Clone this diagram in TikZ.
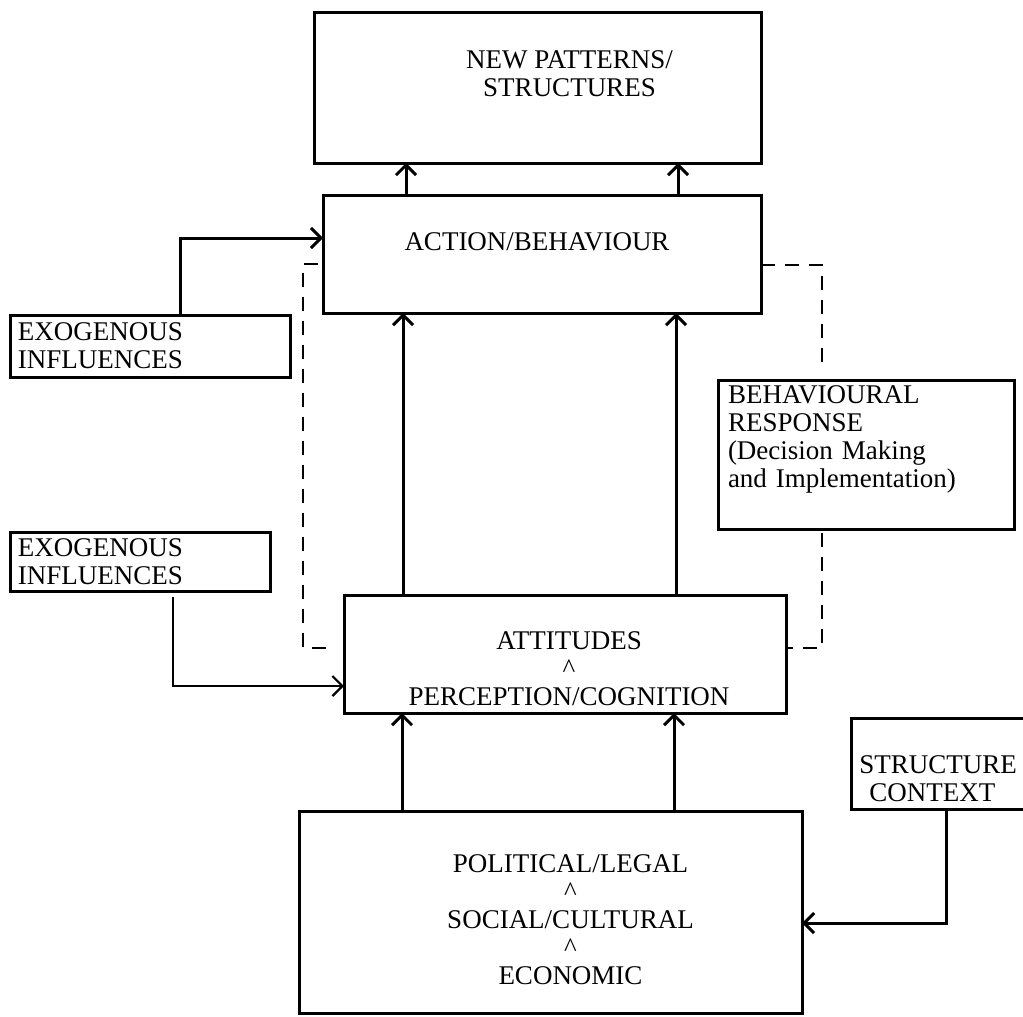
\documentclass[tikz,border=0pt]{standalone}
\usepackage{fontspec}
\setmainfont{Liberation Serif}
\usetikzlibrary{positioning,arrows.meta}

\begin{document}
\begin{tikzpicture}[font=\fontsize{13.5}{14}\selectfont,
  box/.style={draw,line width=1.5pt,inner sep=0pt,outer sep=0pt},
  side/.style={box,align=left,inner xsep=4pt},
  tag/.style={align=center,inner sep=0pt},
  up/.style={line width=1.5pt,-{Straight Barb[length=5pt,width=10pt]}},
  feed/.style={line width=1.1pt,-{Straight Barb[length=5pt,width=10pt]}},
  dashlink/.style={line width=1.2pt,dash pattern=on 7pt off 5pt}]
  \useasboundingbox (0,0) rectangle (511.5pt,-508.5pt);
  \node[box,anchor=north west,minimum width=223.5pt,minimum height=75.5pt,
    label={[tag,xshift=16pt,yshift=7pt]center:NEW PATTERNS/\\STRUCTURES}] (np) at (157pt,-6pt) {};
  \node[box,below=16pt of np.south east,anchor=north east,minimum width=219pt,minimum height=59pt,
    label={[tag,xshift=-2.5pt,yshift=6pt]center:ACTION/BEHAVIOUR}] (act) {};
  \node[box,below=141pt of act.south west,anchor=north west,xshift=10.5pt,minimum width=221pt,minimum height=59pt,
    label={[tag,xshift=2pt,yshift=-7.5pt]center:ATTITUDES\\\textasciicircum\\PERCEPTION/COGNITION}] (att) {};
  \node[box,below=49pt of att.south west,anchor=north west,xshift=-22.5pt,minimum width=251.5pt,minimum height=101pt,
    label={[tag,xshift=10pt,yshift=-4pt]center:POLITICAL/LEGAL\\\textasciicircum\\SOCIAL/CULTURAL\\\textasciicircum\\ECONOMIC}] (env) {};
  \node[side,below left=1pt and 16.5pt of act.south west,text width=132pt,minimum height=31pt] (exoa)
    {EXOGENOUS\\INFLUENCES};
  \node[side,above left=2pt and 37pt of att.north west,text width=122pt,minimum height=29.5pt] (exob)
    {EXOGENOUS\\INFLUENCES};
  \node[side,below right=33.5pt and -21.5pt of act.south east,inner xsep=5pt,text width=138pt,minimum height=74.5pt] (resp)
    {BEHAVIOURAL\\RESPONSE\\(Decision Making\\and Implementation)\\\strut};
  \node[box,above right=1pt and 24.5pt of env.north east,minimum width=95pt,minimum height=45.5pt,
    label={[tag,align=left,anchor=west,xshift=4pt,yshift=-7.5pt]west:STRUCTURE\\\hspace*{5pt}CONTEXT}] (ctx) {};
  % main column
  \draw[up] ([xshift=41.5pt]act.north west) -- ([xshift=41.5pt]act.north west |- np.south);
  \draw[up] ([xshift=177.5pt]act.north west) -- ([xshift=177.5pt]act.north west |- np.south);
  \draw[up] ([xshift=29.5pt]att.north west) -- ([xshift=29.5pt]att.north west |- act.south);
  \draw[up] ([xshift=166pt]att.north west) -- ([xshift=166pt]att.north west |- act.south);
  \draw[up] ([xshift=51.5pt]env.north west) -- ([xshift=51.5pt]env.north west |- att.south);
  \draw[up] ([xshift=187.5pt]env.north west) -- ([xshift=187.5pt]env.north west |- att.south);
  % side inputs
  \draw[up] ([xshift=85pt]exoa.north west) |- ([yshift=-21.5pt]act.north west);
  \draw[feed] ([xshift=81.5pt,yshift=-3pt]exob.south west) |- ([yshift=-45.5pt]att.north west);
  \draw[up] ([xshift=47.5pt]ctx.south west) |- ([yshift=-56pt]env.north east);
  % feedback loops
  \draw[dashlink] ([xshift=-2.5pt,yshift=-34.5pt]act.north west) -- ++(-7.5pt,0) |- ([xshift=-5pt,yshift=-26.5pt]att.north west);
  \draw[dashlink] ([yshift=-35pt]act.north east) -| ([xshift=52pt,yshift=4.5pt]resp.north west);
  \draw[dashlink] ([xshift=52pt,yshift=-2pt]resp.south west) |- ([xshift=1pt,yshift=-26.5pt]att.north east);
\end{tikzpicture}
\end{document}
